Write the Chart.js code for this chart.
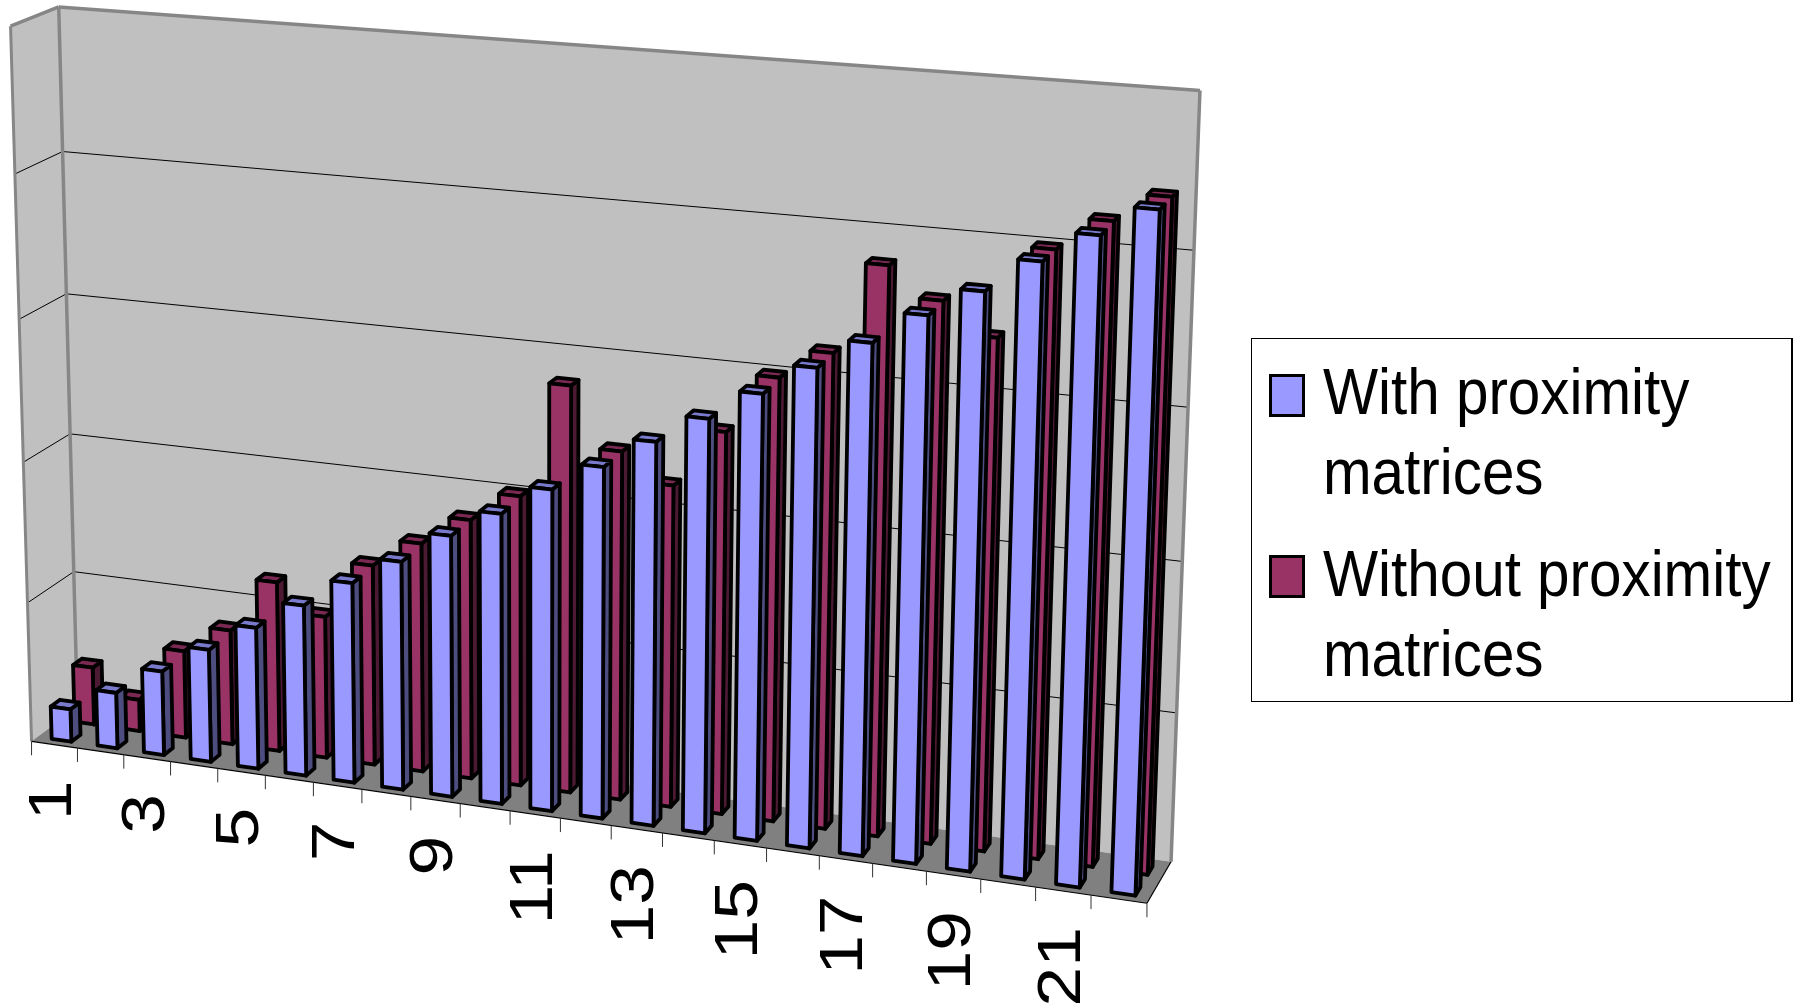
<!DOCTYPE html>
<html>
<head>
<meta charset="utf-8">
<title>With and without proximity matrices</title>
<script src="https://cdn.jsdelivr.net/npm/chart.js@4/dist/chart.umd.min.js"></script>
<style>
  body { margin: 0; background: #fff; overflow: hidden; }
  #chart { position: absolute; left: 0; top: 0; }
  #legend { position: absolute; left: 1251px; top: 338px; width: 542px; height: 364px; box-sizing: border-box;
    border: 1px solid #000; border-right-width: 2px; background: #fff; }
  .swatch { position: absolute; left: 17px; width: 36px; height: 43px; box-sizing: border-box; border: 3px solid #000; }
  .entry { position: absolute; left: 71px; font: 65px/80px "Liberation Sans", Arial, sans-serif; color: #000;
    white-space: nowrap; transform: scaleX(0.898); transform-origin: left top; }
</style>
</head>
<body>
<canvas id="chart" width="1793" height="1004"></canvas>
<div id="legend">
  <div class="swatch" style="top:35px;background:#9999ff"></div>
  <div class="entry" style="top:13px">With proximity<br>matrices</div>
  <div class="swatch" style="top:216px;background:#993366"></div>
  <div class="entry" style="top:195px">Without proximity<br>matrices</div>
</div>
<script>
const categories = ['1','2','3','4','5','6','7','8','9','10','11','12','13','14','15','16','17','18','19','20','21','22'];
const withProximity = [0.235,0.40,0.60,0.80,1.00,1.20,1.40,1.59,1.81,2.00,2.205,2.395,2.60,2.79,2.99,3.195,3.39,3.60,3.785,4.005,4.20,4.39];
const withoutProximity = [0.416,0.228,0.626,0.82,1.207,1.006,1.41,1.606,1.81,2.014,2.804,2.396,2.205,2.603,3.00,3.197,3.80,3.604,3.40,3.996,4.206,4.388];

// Camera fit: where box corners and wall marks land in the picture [u, v, w, x, y]
const cameraPoints = [
  [0,0,0,32,742], [1,0,0,1146,904], [1,0,1,1172,862], [0,0,1,77,709],
  [0,1,0,10,25], [0,1,1,59,7], [1,1,1,1199,91],
  [4/22,0,0,217.7,766.7], [8/22,0,0,412.7,796], [20/22,0,0,1035,887], [21/22,0,0,1090.7,897],
  [0,.8,1,63,153], [0,.6,1,66,295], [0,.4,1,70,434], [0,.2,1,73,569],
  [1,.8,1,1195,251], [1,.6,1,1189,406], [1,.4,1,1183,560], [1,.2,1,1175,712]
];

// Depth slots inside the box, one per series
const depthSlots = [[0.13, 0.33], [0.63, 0.83]];
const columnShift = 0.001;

// Least squares fit of the 3x4 projection matrix
function fitCamera(points) {
  const n = 11;
  const A = Array.from({ length: n }, () => new Array(n + 1).fill(0));
  const addRow = (row, rhs) => {
    for (let i = 0; i < n; i++) {
      for (let j = 0; j < n; j++) A[i][j] += row[i] * row[j];
      A[i][n] += row[i] * rhs;
    }
  };
  points.forEach(([u, v, w, x, y]) => {
    const sx = x / 1000, sy = y / 1000;
    addRow([u, v, w, 1, 0, 0, 0, 0, -sx * u, -sx * v, -sx * w], sx);
    addRow([0, 0, 0, 0, u, v, w, 1, -sy * u, -sy * v, -sy * w], sy);
  });
  for (let c = 0; c < n; c++) {
    let pivot = c;
    for (let r = c + 1; r < n; r++) if (Math.abs(A[r][c]) > Math.abs(A[pivot][c])) pivot = r;
    [A[c], A[pivot]] = [A[pivot], A[c]];
    for (let r = 0; r < n; r++) {
      if (r === c) continue;
      const f = A[r][c] / A[c][c];
      for (let k = c; k <= n; k++) A[r][k] -= f * A[c][k];
    }
  }
  return A.map((row, i) => row[n] / row[i]);
}

const cam = fitCamera(cameraPoints);

function project(u, v, w) {
  const d = cam[8] * u + cam[9] * v + cam[10] * w + 1;
  return [
    1000 * (cam[0] * u + cam[1] * v + cam[2] * w + cam[3]) / d,
    1000 * (cam[4] * u + cam[5] * v + cam[6] * w + cam[7]) / d
  ];
}

function poly(ctx, pts, fill, stroke, lw) {
  ctx.beginPath();
  pts.forEach((p, i) => (i ? ctx.lineTo(p[0], p[1]) : ctx.moveTo(p[0], p[1])));
  ctx.closePath();
  if (fill) { ctx.fillStyle = fill; ctx.fill(); }
  if (stroke) { ctx.strokeStyle = stroke; ctx.lineWidth = lw; ctx.stroke(); }
}

function line(ctx, a, b, color, lw) {
  ctx.beginPath();
  ctx.moveTo(a[0], a[1]);
  ctx.lineTo(b[0], b[1]);
  ctx.strokeStyle = color;
  ctx.lineWidth = lw;
  ctx.stroke();
}

// Walls, floor, gridlines, ticks and category labels
function drawBox(chart) {
  const ctx = chart.ctx;
  const yScale = chart.scales.y, xScale = chart.scales.x;
  ctx.save();
  ctx.lineJoin = 'round';
  poly(ctx, [project(0,0,0), project(0,1,0), project(0,1,1), project(0,0,1)], '#c0c0c0');
  poly(ctx, [project(0,0,1), project(0,1,1), project(1,1,1), project(1,0,1)], '#c0c0c0');
  poly(ctx, [project(0,0,0), project(1,0,0), project(1,0,1), project(0,0,1)], '#808080');

  yScale.ticks.forEach((tick, i) => {
    if (i === 0 || i === yScale.ticks.length - 1) return;
    const v = (yScale.bottom - yScale.getPixelForTick(i)) / yScale.height;
    line(ctx, project(0, v, 0), project(0, v, 1), '#000', 1);
    line(ctx, project(0, v, 1), project(1, v, 1), '#000', 1);
  });

  const frame = '#868686';
  line(ctx, project(0,0,0), project(0,1,0), frame, 3);
  line(ctx, project(0,1,0), project(0,1,1), frame, 3.5);
  line(ctx, project(0,0,1), project(0,1,1), frame, 3.5);
  line(ctx, project(0,1,1), project(1,1,1), frame, 3.5);
  line(ctx, project(1,0,1), project(1,1,1), frame, 3.5);

  line(ctx, project(0,0,0), project(1,0,0), '#000', 1.2);
  line(ctx, project(1,0,0), project(1,0,1), '#000', 1.2);

  const count = categories.length;
  for (let k = 0; k <= count; k++) {
    const p = project(k / count, 0, 0);
    line(ctx, p, [p[0], p[1] + 14], '#333', 1);
  }

  ctx.fillStyle = '#000';
  ctx.font = '62px "Liberation Sans", Arial, sans-serif';
  ctx.textAlign = 'right';
  ctx.textBaseline = 'middle';
  xScale.getLabels().forEach((label, i) => {
    if (i % 2) return;
    const u = (xScale.getPixelForValue(i) - chart.chartArea.left) / chart.chartArea.width;
    const p = project(u, 0, 0);
    ctx.save();
    ctx.translate(p[0] - 0.5, p[1] + 36);
    ctx.rotate(-Math.PI / 2);
    ctx.scale(1.15, 1);
    ctx.fillText(label, 0, 0);
    ctx.restore();
  });
  ctx.restore();
}

// One column as a projected box, sized by the bar element Chart.js laid out
function drawColumn(chart, bar, slot, colors) {
  const area = chart.chartArea, ctx = chart.ctx, yScale = chart.scales.y;
  const u0 = (bar.x - bar.width / 2 - area.left) / area.width + columnShift;
  const u1 = (bar.x + bar.width / 2 - area.left) / area.width + columnShift;
  const v0 = (yScale.bottom - bar.base) / yScale.height;
  const v1 = (yScale.bottom - bar.y) / yScale.height;
  const [w0, w1] = slot;
  poly(ctx, [project(u1,v0,w0), project(u1,v1,w0), project(u1,v1,w1), project(u1,v0,w1)], colors.side, '#000', 3.8);
  poly(ctx, [project(u0,v1,w0), project(u1,v1,w0), project(u1,v1,w1), project(u0,v1,w1)], colors.top, '#000', 3.8);
  poly(ctx, [project(u0,v0,w0), project(u1,v0,w0), project(u1,v1,w0), project(u0,v1,w0)], colors.front, '#000', 3.8);
}

const boxPlugin = {
  id: 'box3d',
  beforeDatasetsDraw(chart) {
    drawBox(chart);
  },
  // native flat bars are replaced by the projected ones
  beforeDatasetDraw() {
    return false;
  },
  afterDatasetsDraw(chart) {
    const ctx = chart.ctx;
    ctx.save();
    ctx.lineJoin = 'round';
    // back series first, then the front one
    [1, 0].forEach((index) => {
      const ds = chart.data.datasets[index];
      chart.getDatasetMeta(index).data.forEach((bar) => {
        drawColumn(chart, bar, depthSlots[index], ds.faces);
      });
    });
    ctx.restore();
  }
};

new Chart(document.getElementById('chart'), {
  type: 'bar',
  data: {
    labels: categories,
    datasets: [
      {
        label: 'With proximity matrices',
        data: withProximity,
        backgroundColor: '#9999ff',
        faces: { front: '#9999ff', side: '#4d4d80', top: '#7a7acc' }
      },
      {
        label: 'Without proximity matrices',
        data: withoutProximity,
        backgroundColor: '#993366',
        faces: { front: '#993366', side: '#4d1a33', top: '#7a2952' }
      }
    ]
  },
  options: {
    responsive: false,
    animation: false,
    grouped: false,
    categoryPercentage: 1,
    barPercentage: 0.43,
    plugins: { legend: { display: false }, tooltip: { enabled: false } },
    scales: {
      x: { display: false },
      y: { display: false, min: 0, max: 5, ticks: { stepSize: 1 } }
    }
  },
  plugins: [boxPlugin]
});
</script>
</body>
</html>
